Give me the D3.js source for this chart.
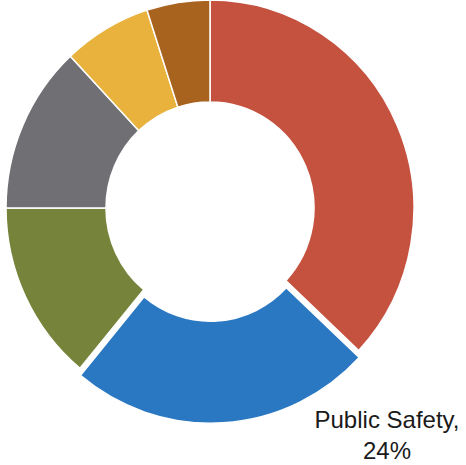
<!DOCTYPE html>
<html>
<head>
<meta charset="utf-8">
<script src="https://cdn.jsdelivr.net/npm/d3@7"></script>
<style>
  body { margin: 0; background: #fff; }
  text { font-family: "Liberation Sans", Arial, sans-serif; }
</style>
</head>
<body>
<div id="chart"></div>
<script>
// slices go clockwise from 12 o'clock
var categories = ["Slice A", "Public Safety", "Slice C", "Slice D", "Slice E", "Slice F"];
var values = [37, 24, 14, 13, 7, 5];
var colors = ["#c4523f", "#2b78c2", "#76843b", "#707074", "#e8b23c", "#a8631f"];
var exploded = "Public Safety";

var width = 466, height = 465;
var outerR = 204, innerR = 104;

var svg = d3.select("#chart")
  .append("svg")
  .attr("width", width)
  .attr("height", height);

var data = categories.map(function(c, i) { return {name: c, value: values[i], color: colors[i]}; });

var pie = d3.pie()
  .sort(null)
  .value(function(d) { return d.value; });

var arc = d3.arc()
  .innerRadius(innerR)
  .outerRadius(outerR);

var g = svg.append("g")
  .attr("transform", "translate(210,208) scale(1,1.02)");

var arcs = pie(data);

g.selectAll("path")
  .data(arcs)
  .enter()
  .append("path")
  .attr("d", arc)
  .attr("fill", function(d) { return d.data.color; })
  .attr("stroke", "#fff")
  .attr("stroke-width", 1.5)
  .attr("transform", function(d) {
    if (d.data.name != exploded) return null;
    var a = (d.startAngle + d.endAngle) / 2;
    var off = 7;
    return "translate(" + (Math.sin(a) * off) + "," + (-Math.cos(a) * off) + ")";
  });

// label for the pulled-out slice
var lbl = arcs.filter(function(d) { return d.data.name == exploded; })[0];
var pct = Math.round(lbl.value / d3.sum(values) * 100);

var t = svg.append("text")
  .attr("x", 387)
  .attr("y", 428)
  .attr("text-anchor", "middle")
  .attr("font-size", "24px")
  .attr("fill", "#1a1a1a");
t.append("tspan").attr("x", 387).text(lbl.data.name + ",");
t.append("tspan").attr("x", 387).attr("dy", 31).text(pct + "%");
</script>
</body>
</html>
